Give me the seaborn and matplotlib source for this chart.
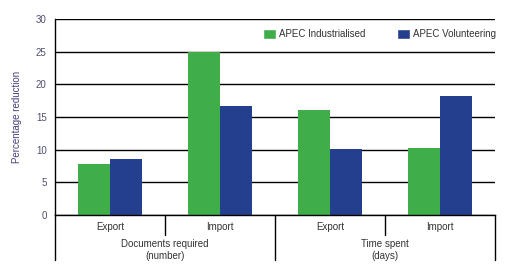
import matplotlib
matplotlib.use("Agg")
import matplotlib.pyplot as plt
import matplotlib.transforms as mtransforms
from matplotlib.patches import Patch
import seaborn as sns
import pandas as pd

categories = ["Export", "Import", "Export", "Import"]
groups = ["Documents required\n(number)", "Time spent\n(days)"]
series_names = ["APEC Industrialised", "APEC Volunteering"]
industrialised = [7.8, 25.0, 16.1, 10.3]
volunteering = [8.6, 16.7, 10.1, 18.2]
yticks = [0, 5, 10, 15, 20, 25, 30]

colors = ["#3fae49", "#243f8e"]

keys = ["Documents Export", "Documents Import", "Time Export", "Time Import"]
rows = []
for k, v in zip(keys, industrialised):
    rows.append({"cat": k, "series": series_names[0], "value": v})
for k, v in zip(keys, volunteering):
    rows.append({"cat": k, "series": series_names[1], "value": v})
df = pd.DataFrame(rows)

sns.set_style("white")
plt.rcParams["font.family"] = ["Liberation Sans", "DejaVu Sans"]

W, H = 507, 276
fig = plt.figure(figsize=(W / 100, H / 100), dpi=100)
ax = fig.add_axes([55 / W, 1 - 215 / H, 440 / W, 196 / H])

sns.barplot(data=df, x="cat", y="value", hue="series", order=keys,
            hue_order=series_names, palette=colors, width=0.58,
            saturation=1, ax=ax, legend=False, linewidth=0)

ax.set_xlim(-0.5, 3.5)
ax.set_ylim(0, 30)
ax.set_yticks(yticks)
ax.set_yticklabels([str(t) for t in yticks], fontsize=7, color="#4f4f6f")
ax.tick_params(axis="y", length=0, pad=6)
ax.set_xticks([])
ax.set_xlabel("")
ax.set_ylabel("Percentage reduction", fontsize=7, color="#4b3c7c", labelpad=10)
ax.yaxis.grid(True, color="black", linewidth=1)
ax.set_axisbelow(True)
for s in ["top", "right"]:
    ax.spines[s].set_visible(False)
ax.spines["left"].set_color("black")
ax.spines["left"].set_linewidth(1)
ax.spines["bottom"].set_color("black")
ax.spines["bottom"].set_linewidth(1)

trans = mtransforms.blended_transform_factory(ax.transData, ax.transAxes)
px = 1 / 196
for xpos, depth in [(-0.5, 45), (0.5, 20), (1.5, 45), (2.5, 20), (3.5, 45)]:
    ax.plot([xpos, xpos], [0, -depth * px], color="black", linewidth=1,
            transform=trans, clip_on=False)

for i, c in enumerate(categories):
    ax.text(i, -12 * px, c, transform=trans, ha="center", va="center",
            fontsize=7, color="#333333")
for gi, g in enumerate(groups):
    ax.text(gi * 2 + 0.5, -35 * px, g, transform=trans, ha="center", va="center",
            fontsize=7, color="#333333", linespacing=1.35)

handles = [Patch(facecolor=colors[0]), Patch(facecolor=colors[1])]
fig.legend(handles, series_names, loc="center left",
           bbox_to_anchor=(263 / W, 1 - 34 / H), ncol=2, frameon=False,
           fontsize=7, handlelength=1.35, handleheight=1.35,
           handletextpad=0.3, columnspacing=3.2, borderpad=0, borderaxespad=0,
           labelcolor="#333333")

fig.savefig("out.png", dpi=100)
